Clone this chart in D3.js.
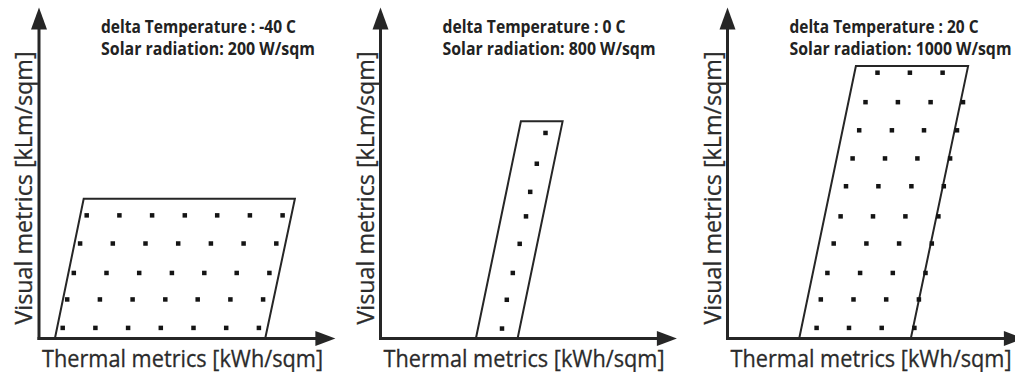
<!DOCTYPE html>
<html>
<head>
<meta charset="utf-8">
<script src="https://cdn.jsdelivr.net/npm/d3@7.9.0/dist/d3.min.js"></script>
<style>
  html, body { margin: 0; padding: 0; background: #fff; }
  svg { display: block; }
</style>
</head>
<body>
<svg id="chart" width="1015" height="372"></svg>
<script>
// panel headers
const deltaTemps = ["-40 C", "0 C", "20 C"];
const solarRads = ["200 W/sqm", "800 W/sqm", "1000 W/sqm"];
const xLabel = "Thermal metrics [kWh/sqm]";
const yLabel = "Visual metrics [kLm/sqm]";

// envelope corners [thermal, visual] (arbitrary units)
const envelope1 = [[0.53, 0], [1.49, 4.22], [8.53, 4.22], [7.54, 0]];
const envelope2 = [[3.18, 0], [4.68, 6.56], [6.07, 6.56], [4.57, 0]];
const envelope3 = [[2.39, 0], [4.28, 8.23], [8.02, 8.23], [6.11, 0]];

// sample points, one row of thermal values per visual level
const rowsY1 = [0.32, 1.18, 1.98, 2.87, 3.72];
const rowsX1 = [
  [0.79, 1.88, 2.97, 4.06, 5.15, 6.24, 7.33],
  [0.94, 2.03, 3.12, 4.21, 5.29, 6.38, 7.47],
  [1.16, 2.25, 3.34, 4.43, 5.51, 6.59, 7.68],
  [1.37, 2.46, 3.55, 4.64, 5.73, 6.82, 7.91],
  [1.59, 2.68, 3.77, 4.86, 5.94, 7.03, 8.12]
];

const rowsY2 = [0.30, 1.17, 1.98, 2.86, 3.69, 4.43, 5.28, 6.21];
const rowsX2 = [[4.05], [4.21], [4.41], [4.64], [4.85], [4.99], [5.21], [5.50]];

const rowsY3 = [0.32, 1.18, 1.98, 2.87, 3.69, 4.60, 5.44, 6.29, 7.14, 8.03];
const rowsX3 = [
  [2.97, 4.05, 5.14, 6.23],
  [3.11, 4.20, 5.29, 6.38],
  [3.33, 4.42, 5.51, 6.60],
  [3.54, 4.63, 5.72, 6.81],
  [3.77, 4.85, 5.93, 7.03],
  [3.95, 5.03, 6.13, 7.21],
  [4.17, 5.25, 6.33, 7.42],
  [4.39, 5.48, 6.55, 7.65],
  [4.60, 5.68, 6.77, 7.85],
  [5.00, 6.08, 7.17]
];

const panels = [
  { envelope: envelope1, rowsY: rowsY1, rowsX: rowsX1 },
  { envelope: envelope2, rowsY: rowsY2, rowsX: rowsX2 },
  { envelope: envelope3, rowsY: rowsY3, rowsX: rowsX3 }
];

// --- layout ---
const origins = [39, 380.5, 727.5];
const ink = "#262626";
const svg = d3.select("#chart");

panels.forEach((p, i) => {
  const ox = origins[i];
  const x = d3.scaleLinear().domain([0, 10]).range([ox, ox + 300]);
  const y = d3.scaleLinear().domain([0, 10]).range([338.5, 7.5]);
  const g = svg.append("g");

  // axes (no ticks, just arrows)
  const xEnd = x(9.88);
  g.append("path")
    .attr("d", `M${x(0) - 1.5},${y(0)}H${xEnd - 12}`)
    .attr("stroke", ink).attr("stroke-width", 3).attr("fill", "none");
  g.append("path")
    .attr("d", `M${xEnd},${y(0)}L${xEnd - 20},${y(0) - 7.5}L${xEnd - 20},${y(0) + 7.5}Z`)
    .attr("fill", ink);
  g.append("path")
    .attr("d", `M${x(0)},${y(0) + 1.5}V${y(10) + 12}`)
    .attr("stroke", ink).attr("stroke-width", 3).attr("fill", "none");
  g.append("path")
    .attr("d", `M${x(0)},${y(10)}L${x(0) - 8},${y(10) + 22}L${x(0) + 8},${y(10) + 22}Z`)
    .attr("fill", ink);

  // envelope
  const line = d3.line().x(d => x(d[0])).y(d => y(d[1]));
  g.append("path")
    .attr("d", line(p.envelope) + "Z")
    .attr("fill", "none")
    .attr("stroke", ink)
    .attr("stroke-width", 2)
    .attr("stroke-linejoin", "miter");

  // dots
  const pts = p.rowsY.flatMap((yy, r) => p.rowsX[r].map(xx => [xx, yy]));
  g.selectAll("rect.dot")
    .data(pts)
    .join("rect")
    .attr("class", "dot")
    .attr("x", d => x(d[0]) - 2.25)
    .attr("y", d => y(d[1]) - 2.25)
    .attr("width", 4.5)
    .attr("height", 4.5)
    .attr("fill", "#141414");

  // titles
  const t1w = [195, 183, 189][i];
  const t2w = [214, 213, 222][i];
  [[`delta Temperature : ${deltaTemps[i]}`, 33, t1w],
   [`Solar radiation: ${solarRads[i]}`, 54.5, t2w]].forEach(([txt, ty, tw]) => {
    g.append("text")
      .attr("x", ox + 62)
      .attr("y", ty)
      .attr("font-family", "'Open Sans', sans-serif")
      .attr("font-weight", "bold")
      .attr("font-size", 17)
      .attr("fill", "#222")
      .attr("textLength", tw)
      .attr("lengthAdjust", "spacingAndGlyphs")
      .text(txt);
  });

  // axis labels
  g.append("text")
    .attr("x", ox + 143.5)
    .attr("y", 366.5)
    .attr("text-anchor", "middle")
    .attr("font-family", "'Open Sans', sans-serif")
    .attr("font-size", 24)
    .attr("fill", "#2b2b2b")
    .attr("stroke", "#2b2b2b")
    .attr("stroke-width", 0.3)
    .attr("textLength", 281)
    .attr("lengthAdjust", "spacingAndGlyphs")
    .text(xLabel);

  g.append("text")
    .attr("transform", `translate(${ox - 7},188) rotate(-90)`)
    .attr("text-anchor", "middle")
    .attr("font-family", "'Open Sans', sans-serif")
    .attr("font-size", 24)
    .attr("fill", "#2b2b2b")
    .attr("stroke", "#2b2b2b")
    .attr("stroke-width", 0.3)
    .attr("textLength", 273)
    .attr("lengthAdjust", "spacingAndGlyphs")
    .text(yLabel);
});
</script>
</body>
</html>
